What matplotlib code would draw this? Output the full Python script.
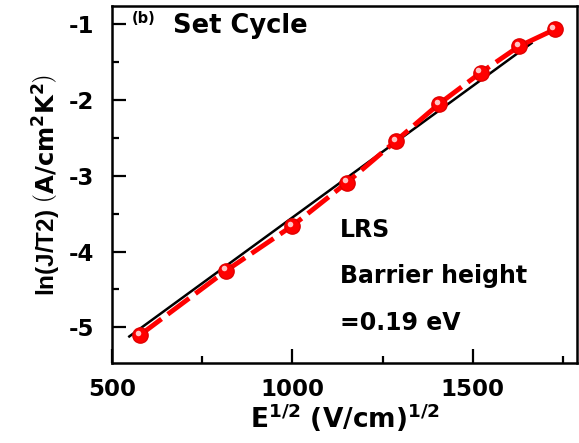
import numpy as np
import matplotlib
matplotlib.use('Agg')
import matplotlib.pyplot as plt
import matplotlib.transforms as mtrans

# data
e_sqrt = [578, 817, 1000, 1151, 1287, 1407, 1522, 1629, 1727]
ln_jt2 = [-5.10, -4.25, -3.66, -3.09, -2.54, -2.05, -1.64, -1.29, -1.07]
fit_x = [548, 1663]
fit_y = [-5.12, -1.25]

plt.rcParams['font.family'] = ['DejaVu Sans']
plt.rcParams['font.weight'] = 'bold'
plt.rcParams['axes.unicode_minus'] = False
plt.rcParams['mathtext.fontset'] = 'custom'
plt.rcParams['mathtext.rm'] = 'DejaVu Sans:bold'
plt.rcParams['mathtext.bf'] = 'DejaVu Sans:bold'
plt.rcParams['mathtext.it'] = 'DejaVu Sans:bold'

fig = plt.figure(figsize=(5.79, 4.43), dpi=100)
ax = fig.add_axes([0.1934, 0.1806, 0.8031, 0.8059])

ax.plot(fit_x, fit_y, color='black', lw=1.8, zorder=2)
ax.plot(e_sqrt, ln_jt2, color='#ff0000', lw=3.5, ls=(0, (5.5, 1.6)),
        marker='o', ms=11, mfc='#ff0000', mec='#e00000', zorder=3)
# little highlight on each ball
hl = ax.transData + mtrans.ScaledTranslation(-1.6/72, 1.6/72, fig.dpi_scale_trans)
ax.plot(e_sqrt, ln_jt2, ls='none', marker='o', ms=4, mfc='#ffc4c4', mec='none',
        transform=hl, zorder=4)

ax.set_xlim(500, 1789)
ax.set_ylim(-5.47, -0.76)
ax.set_xticks([500, 1000, 1500])
ax.set_xticks([750, 1250, 1750], minor=True)
ax.set_yticks([-5, -4, -3, -2, -1])
ax.set_yticks([-4.5, -3.5, -2.5, -1.5], minor=True)

ax.tick_params(which='both', direction='in', top=False, right=False, width=1.6)
ax.tick_params(which='major', length=10)
ax.tick_params(which='minor', length=5)
ax.tick_params(axis='x', which='major', labelsize=16.5, pad=11)
ax.tick_params(axis='y', which='major', labelsize=16.5, pad=13)
for s in ax.spines.values():
    s.set_linewidth(1.8)

ax.set_xlabel(r'E$^{1/2}$ (V/cm)$^{1/2}$', fontsize=19, fontweight='bold', labelpad=0)
ax.set_ylabel(r'ln(J/T2) $\left(\mathrm{A/cm^2K^2}\right)$', fontsize=17.5,
              fontweight='bold', family='Liberation Sans', labelpad=4)

ax.text(0.042, 0.952, '(b)', transform=ax.transAxes, fontsize=10.5, fontweight='bold', va='baseline')
ax.text(0.131, 0.923, 'Set Cycle', transform=ax.transAxes, fontsize=18.5, fontweight='bold', va='baseline')
ax.text(0.49, 0.354, 'LRS', transform=ax.transAxes, fontsize=17, fontweight='bold', va='baseline')
ax.text(0.49, 0.223, 'Barrier height', transform=ax.transAxes, fontsize=17, fontweight='bold', va='baseline')
ax.text(0.49, 0.092, '=0.19 eV', transform=ax.transAxes, fontsize=17, fontweight='bold', va='baseline')

plt.savefig('out.png', dpi=100)
